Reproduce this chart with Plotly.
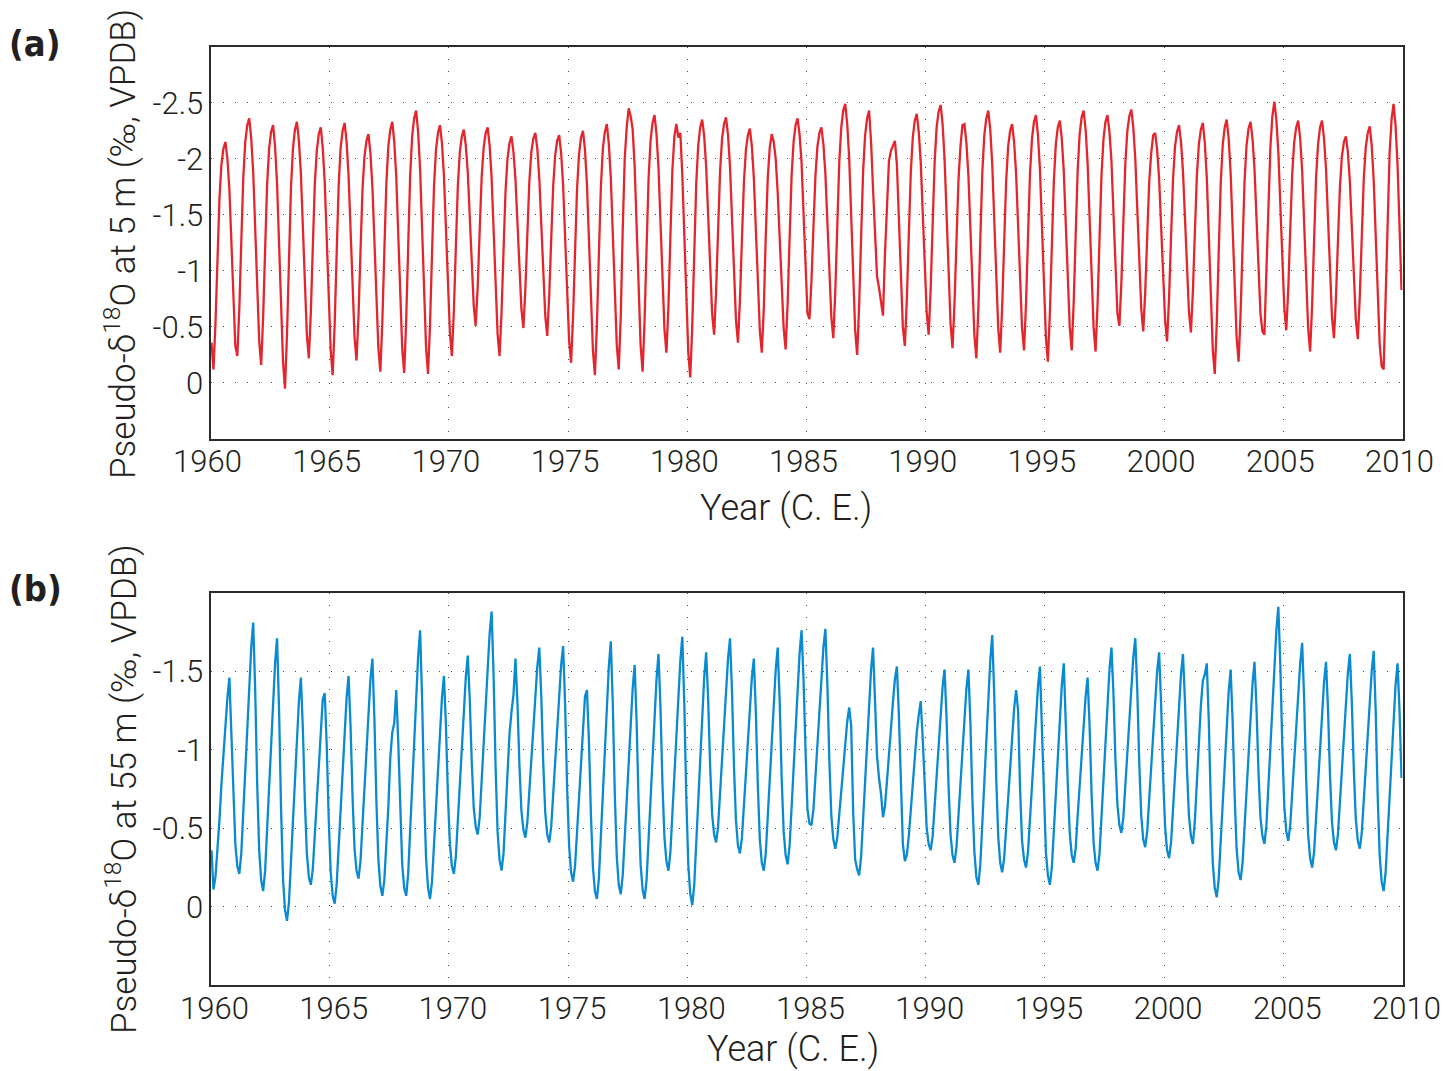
import numpy as np
import plotly.graph_objects as go

# ---------------- data (monthly values, Jan..Dec for each year) ----------------
first_year = 1960
last_year = 2009

d18o_5m = [
    -0.36, -0.12, -0.53, -1.09, -1.64, -1.95, -2.09, -2.15, -2.00, -1.73, -1.29, -0.81,  # 1960
    -0.33, -0.24, -0.66, -1.26, -1.83, -2.15, -2.30, -2.36, -2.18, -1.88, -1.37, -0.82,  # 1961
    -0.38, -0.16, -0.59, -1.19, -1.77, -2.09, -2.24, -2.30, -2.11, -1.78, -1.24, -0.66,  # 1962
    -0.19, 0.05, -0.43, -1.09, -1.74, -2.09, -2.26, -2.33, -2.16, -1.87, -1.38, -0.85,   # 1963
    -0.43, -0.22, -0.63, -1.21, -1.77, -2.07, -2.22, -2.28, -2.10, -1.79, -1.29, -0.73,  # 1964
    -0.29, -0.07, -0.52, -1.15, -1.76, -2.10, -2.25, -2.32, -2.15, -1.85, -1.37, -0.84,  # 1965
    -0.41, -0.20, -0.60, -1.17, -1.72, -2.02, -2.16, -2.22, -2.05, -1.75, -1.27, -0.74,  # 1966
    -0.31, -0.10, -0.55, -1.17, -1.77, -2.11, -2.26, -2.33, -2.15, -1.84, -1.32, -0.76,  # 1967
    -0.31, -0.09, -0.56, -1.21, -1.85, -2.20, -2.36, -2.43, -2.24, -1.91, -1.37, -0.79,  # 1968
    -0.32, -0.08, -0.52, -1.15, -1.75, -2.08, -2.23, -2.30, -2.14, -1.85, -1.37, -0.86,  # 1969
    -0.45, -0.24, -0.64, -1.21, -1.76, -2.06, -2.20, -2.26, -2.12, -1.88, -1.47, -1.04,  # 1970
    -0.69, -0.51, -0.86, -1.36, -1.84, -2.10, -2.23, -2.28, -2.12, -1.83, -1.36, -0.85,  # 1971
    -0.44, -0.24, -0.63, -1.18, -1.71, -2.00, -2.14, -2.20, -2.06, -1.82, -1.43, -1.00,  # 1972
    -0.66, -0.49, -0.84, -1.33, -1.80, -2.06, -2.18, -2.23, -2.09, -1.83, -1.42, -0.96,  # 1973
    -0.60, -0.42, -0.78, -1.28, -1.76, -2.03, -2.16, -2.21, -2.05, -1.76, -1.30, -0.79,  # 1974
    -0.38, -0.18, -0.59, -1.17, -1.73, -2.04, -2.19, -2.25, -2.08, -1.77, -1.27, -0.72,  # 1975
    -0.29, -0.07, -0.52, -1.15, -1.75, -2.09, -2.24, -2.31, -2.13, -1.83, -1.32, -0.78,  # 1976
    -0.34, -0.12, -0.59, -1.37, -2.00, -2.28, -2.45, -2.38, -2.26, -1.93, -1.39, -0.81,  # 1977
    -0.34, -0.10, -0.56, -1.20, -1.82, -2.16, -2.32, -2.39, -2.22, -1.92, -1.44, -0.91,  # 1978
    -0.48, -0.27, -0.68, -1.31, -1.90, -2.20, -2.31, -2.19, -2.23, -1.85, -1.30, -0.72,  # 1979
    -0.27, -0.05, -0.51, -1.15, -1.78, -2.12, -2.28, -2.35, -2.20, -1.93, -1.49, -1.01,  # 1980
    -0.62, -0.43, -0.82, -1.36, -1.89, -2.18, -2.31, -2.37, -2.21, -1.93, -1.47, -0.96,  # 1981
    -0.56, -0.36, -0.74, -1.28, -1.79, -2.08, -2.21, -2.27, -2.11, -1.83, -1.37, -0.87,  # 1982
    -0.47, -0.27, -0.66, -1.31, -1.83, -2.10, -2.22, -2.15, -2.00, -1.70, -1.26, -0.80,  # 1983
    -0.49, -0.30, -0.71, -1.29, -1.85, -2.15, -2.30, -2.36, -2.22, -1.97, -1.55, -1.11,  # 1984
    -0.62, -0.57, -0.91, -1.39, -1.85, -2.11, -2.23, -2.28, -2.13, -1.87, -1.43, -0.96,  # 1985
    -0.59, -0.40, -0.82, -1.40, -1.97, -2.28, -2.43, -2.49, -2.31, -2.00, -1.48, -0.92,  # 1986
    -0.47, -0.25, -0.69, -1.30, -1.89, -2.21, -2.36, -2.43, -2.15, -1.73, -1.30, -0.95,  # 1987
    -0.85, -0.74, -0.60, -1.15, -1.65, -1.98, -2.07, -2.12, -2.16, -1.95, -1.50, -0.95,  # 1988
    -0.50, -0.33, -0.74, -1.32, -1.88, -2.19, -2.34, -2.40, -2.24, -1.97, -1.51, -1.02,  # 1989
    -0.63, -0.43, -0.84, -1.41, -1.97, -2.28, -2.42, -2.48, -2.31, -2.00, -1.50, -0.96,  # 1990
    -0.53, -0.31, -0.71, -1.27, -1.81, -2.11, -2.30, -2.31, -2.14, -1.85, -1.37, -0.85,  # 1991
    -0.43, -0.22, -0.66, -1.28, -1.88, -2.21, -2.36, -2.43, -2.26, -1.95, -1.46, -0.92,  # 1992
    -0.49, -0.27, -0.68, -1.25, -1.80, -2.11, -2.25, -2.31, -2.15, -1.87, -1.40, -0.90,  # 1993
    -0.49, -0.29, -0.71, -1.30, -1.87, -2.18, -2.33, -2.39, -2.21, -1.91, -1.40, -0.85,  # 1994
    -0.41, -0.19, -0.62, -1.22, -1.80, -2.13, -2.28, -2.34, -2.18, -1.89, -1.42, -0.91,  # 1995
    -0.50, -0.29, -0.72, -1.32, -1.90, -2.22, -2.37, -2.43, -2.26, -1.96, -1.46, -0.93,  # 1996
    -0.50, -0.28, -0.70, -1.29, -1.86, -2.18, -2.33, -2.39, -2.24, -1.98, -1.54, -1.07,  # 1997
    -0.62, -0.51, -0.90, -1.44, -1.96, -2.25, -2.38, -2.44, -2.28, -2.00, -1.55, -1.05,  # 1998
    -0.66, -0.46, -0.81, -1.31, -1.79, -2.05, -2.21, -2.23, -2.08, -1.82, -1.39, -0.93,  # 1999
    -0.56, -0.37, -0.76, -1.30, -1.82, -2.11, -2.24, -2.30, -2.15, -1.89, -1.47, -1.01,  # 2000
    -0.64, -0.45, -0.82, -1.35, -1.85, -2.13, -2.26, -2.32, -2.14, -1.83, -1.31, -0.75,  # 2001
    -0.30, -0.08, -0.53, -1.17, -1.78, -2.12, -2.28, -2.35, -2.18, -1.87, -1.38, -0.84,  # 2002
    -0.41, -0.19, -0.62, -1.22, -1.80, -2.12, -2.27, -2.33, -2.18, -1.91, -1.48, -1.00,  # 2003
    -0.62, -0.46, -0.43, -1.00, -1.65, -2.10, -2.38, -2.51, -2.35, -2.06, -1.59, -1.08,  # 2004
    -0.67, -0.47, -0.84, -1.37, -1.87, -2.15, -2.28, -2.34, -2.18, -1.89, -1.41, -0.90,  # 2005
    -0.49, -0.28, -0.69, -1.27, -1.83, -2.13, -2.28, -2.34, -2.18, -1.91, -1.47, -0.98,  # 2006
    -0.59, -0.40, -0.76, -1.26, -1.75, -2.02, -2.15, -2.20, -2.06, -1.80, -1.39, -0.93,  # 2007
    -0.57, -0.39, -0.77, -1.30, -1.82, -2.10, -2.23, -2.29, -2.12, -1.81, -1.31, -0.77,  # 2008
    -0.35, -0.15, -0.12, -0.75, -1.50, -2.05, -2.35, -2.49, -2.30, -1.95, -1.40, -0.83,  # 2009
]

d18o_55m = [
    -0.36, -0.11, -0.19, -0.35, -0.55, -0.78, -0.98, -1.19, -1.33, -1.46, -1.14, -0.71,  # 1960
    -0.40, -0.26, -0.21, -0.34, -0.61, -0.90, -1.17, -1.43, -1.65, -1.81, -1.38, -0.78,  # 1961
    -0.36, -0.17, -0.10, -0.23, -0.50, -0.79, -1.07, -1.32, -1.55, -1.71, -1.26, -0.63,  # 1962
    -0.18, 0.02, 0.09, -0.03, -0.30, -0.58, -0.84, -1.09, -1.31, -1.46, -1.13, -0.67,    # 1963
    -0.34, -0.19, -0.14, -0.24, -0.45, -0.66, -0.90, -1.07, -1.32, -1.36, -1.03, -0.56,  # 1964
    -0.22, -0.07, -0.02, -0.14, -0.38, -0.64, -0.89, -1.12, -1.33, -1.47, -1.15, -0.70,  # 1965
    -0.37, -0.23, -0.18, -0.29, -0.53, -0.78, -1.02, -1.24, -1.45, -1.58, -1.20, -0.67,  # 1966
    -0.30, -0.13, -0.07, -0.17, -0.40, -0.63, -0.95, -1.11, -1.17, -1.38, -1.05, -0.59,  # 1967
    -0.27, -0.12, -0.07, -0.21, -0.49, -0.80, -1.08, -1.35, -1.59, -1.76, -1.33, -0.73,  # 1968
    -0.31, -0.12, -0.05, -0.16, -0.41, -0.66, -0.90, -1.13, -1.33, -1.47, -1.16, -0.71,  # 1969
    -0.40, -0.26, -0.21, -0.32, -0.56, -0.81, -1.04, -1.27, -1.46, -1.60, -1.32, -0.92,  # 1970
    -0.63, -0.51, -0.46, -0.57, -0.82, -1.07, -1.31, -1.54, -1.74, -1.88, -1.47, -0.89,  # 1971
    -0.48, -0.30, -0.23, -0.34, -0.57, -0.81, -1.10, -1.24, -1.35, -1.58, -1.30, -0.90,  # 1972
    -0.61, -0.49, -0.44, -0.54, -0.74, -0.96, -1.17, -1.36, -1.53, -1.65, -1.34, -0.91,  # 1973
    -0.60, -0.46, -0.41, -0.51, -0.72, -0.95, -1.16, -1.36, -1.54, -1.66, -1.29, -0.76,  # 1974
    -0.39, -0.22, -0.16, -0.26, -0.47, -0.68, -0.89, -1.09, -1.34, -1.38, -1.05, -0.58,  # 1975
    -0.25, -0.10, -0.05, -0.18, -0.46, -0.76, -1.03, -1.30, -1.53, -1.69, -1.29, -0.72,  # 1976
    -0.32, -0.14, -0.08, -0.20, -0.45, -0.71, -0.96, -1.19, -1.39, -1.54, -1.17, -0.65,  # 1977
    -0.27, -0.11, -0.05, -0.17, -0.44, -0.72, -0.99, -1.24, -1.45, -1.61, -1.27, -0.78,  # 1978
    -0.44, -0.29, -0.23, -0.35, -0.60, -0.87, -1.12, -1.36, -1.57, -1.72, -1.29, -0.69,  # 1979
    -0.27, -0.08, -0.01, -0.14, -0.41, -0.70, -0.98, -1.23, -1.46, -1.62, -1.32, -0.89,  # 1980
    -0.59, -0.46, -0.41, -0.51, -0.74, -0.97, -1.19, -1.40, -1.58, -1.71, -1.37, -0.89,  # 1981
    -0.55, -0.39, -0.34, -0.44, -0.65, -0.87, -1.08, -1.28, -1.46, -1.58, -1.24, -0.77,  # 1982
    -0.43, -0.28, -0.23, -0.34, -0.59, -0.84, -1.08, -1.31, -1.51, -1.65, -1.31, -0.82,  # 1983
    -0.48, -0.33, -0.27, -0.39, -0.64, -0.91, -1.16, -1.40, -1.61, -1.76, -1.45, -1.00,  # 1984
    -0.62, -0.53, -0.52, -0.62, -0.83, -1.06, -1.27, -1.47, -1.65, -1.77, -1.42, -0.93,  # 1985
    -0.58, -0.43, -0.37, -0.44, -0.60, -0.76, -0.91, -1.05, -1.18, -1.27, -1.15, -0.60,  # 1986
    -0.30, -0.24, -0.20, -0.32, -0.56, -0.82, -1.07, -1.30, -1.51, -1.65, -1.35, -0.96,  # 1987
    -0.82, -0.72, -0.57, -0.64, -0.80, -0.98, -1.15, -1.30, -1.45, -1.53, -1.22, -0.79,  # 1988
    -0.40, -0.29, -0.33, -0.45, -0.62, -0.80, -0.98, -1.11, -1.22, -1.31, -1.07, -0.74,  # 1989
    -0.50, -0.40, -0.36, -0.45, -0.65, -0.85, -1.05, -1.23, -1.40, -1.51, -1.20, -0.77,  # 1990
    -0.46, -0.33, -0.28, -0.38, -0.59, -0.81, -1.02, -1.21, -1.39, -1.51, -1.17, -0.69,  # 1991
    -0.35, -0.19, -0.14, -0.27, -0.54, -0.82, -1.09, -1.35, -1.57, -1.73, -1.35, -0.82,  # 1992
    -0.45, -0.28, -0.22, -0.31, -0.51, -0.72, -0.92, -1.10, -1.26, -1.38, -1.25, -0.75,  # 1993
    -0.42, -0.30, -0.25, -0.35, -0.57, -0.80, -1.02, -1.22, -1.40, -1.53, -1.18, -0.70,  # 1994
    -0.35, -0.20, -0.14, -0.25, -0.49, -0.75, -0.99, -1.21, -1.41, -1.55, -1.23, -0.79,  # 1995
    -0.47, -0.33, -0.28, -0.37, -0.58, -0.79, -0.99, -1.18, -1.34, -1.46, -1.15, -0.72,  # 1996
    -0.41, -0.28, -0.23, -0.34, -0.59, -0.84, -1.08, -1.31, -1.51, -1.65, -1.36, -0.94,  # 1997
    -0.65, -0.52, -0.47, -0.57, -0.78, -1.00, -1.21, -1.41, -1.59, -1.71, -1.38, -0.91,  # 1998
    -0.58, -0.43, -0.38, -0.48, -0.69, -0.91, -1.12, -1.32, -1.50, -1.62, -1.29, -0.83,  # 1999
    -0.51, -0.36, -0.31, -0.41, -0.64, -0.87, -1.09, -1.30, -1.48, -1.61, -1.31, -0.88,  # 2000
    -0.58, -0.45, -0.40, -0.55, -0.80, -1.05, -1.28, -1.44, -1.48, -1.55, -1.18, -0.66,  # 2001
    -0.28, -0.12, -0.06, -0.18, -0.42, -0.68, -0.93, -1.16, -1.37, -1.51, -1.18, -0.71,  # 2002
    -0.37, -0.22, -0.17, -0.28, -0.52, -0.77, -1.00, -1.23, -1.42, -1.56, -1.27, -0.86,  # 2003
    -0.57, -0.45, -0.40, -0.52, -0.78, -1.05, -1.31, -1.55, -1.76, -1.91, -1.54, -1.02,  # 2004
    -0.64, -0.48, -0.42, -0.52, -0.74, -0.96, -1.18, -1.38, -1.55, -1.68, -1.32, -0.82,  # 2005
    -0.46, -0.31, -0.25, -0.35, -0.58, -0.81, -1.04, -1.25, -1.43, -1.56, -1.26, -0.84,  # 2006
    -0.54, -0.41, -0.36, -0.46, -0.67, -0.90, -1.11, -1.31, -1.49, -1.61, -1.30, -0.87,  # 2007
    -0.56, -0.42, -0.37, -0.47, -0.69, -0.91, -1.13, -1.33, -1.50, -1.63, -1.25, -0.71,  # 2008
    -0.33, -0.16, -0.10, -0.22, -0.46, -0.72, -0.97, -1.20, -1.41, -1.55, -1.25, -0.82,  # 2009
]

x_ticks = [1960, 1965, 1970, 1975, 1980, 1985, 1990, 1995, 2000, 2005, 2010]
y_ticks_a = [0, -0.5, -1, -1.5, -2, -2.5]
y_ticks_b = [0, -0.5, -1, -1.5]
y_labels_a = ["0", "-0.5", "-1", "-1.5", "-2", "-2.5"]
y_labels_b = ["0", "-0.5", "-1", "-1.5"]

# monthly time axis (mid-month, decimal years)
n_months = (last_year - first_year + 1) * 12
t = first_year + (np.arange(n_months) + 0.5) / 12.0

# ---------------- figure ----------------
# The page body has an 8 px margin, so the figure is 8 px smaller and every
# position (given in window pixels) is shifted by that offset.
OFF = 8
W, H = 1452 - OFF, 1071 - OFF
FONT = "Roboto, 'Open Sans', Arial, sans-serif"
TXT = "#231f20"
RED = "#e3262d"
BLUE = "#0a8ad0"

def px_x(px):
    return (px - OFF) / W

def px_y(py):
    return 1 - (py - OFF) / H

fig = go.Figure()
fig.add_trace(go.Scatter(x=t, y=d18o_5m, mode="lines", line=dict(color=RED, width=2.3),
                         xaxis="x", yaxis="y", showlegend=False))
fig.add_trace(go.Scatter(x=t, y=d18o_55m, mode="lines", line=dict(color=BLUE, width=2.3),
                         xaxis="x2", yaxis="y2", showlegend=False))

xdom = [px_x(210.5), px_x(1402.5)]
grid = dict(showgrid=True, gridcolor="#4a4a4a", gridwidth=1.4, griddash="1.4px,10.6px")
frame = dict(showline=True, linecolor="#2b2b2b", linewidth=2, mirror=True, ticks="",
             zeroline=False, automargin=False)

xaxis_common = dict(range=[1960, 2010], tickvals=x_ticks, ticktext=[str(v) for v in x_ticks],
                    tickfont=dict(family=FONT, size=31, color=TXT, weight=300),
                    ticklabelstandoff=-6, **grid, **frame)
ytick_font = dict(family=FONT, size=31, color=TXT, weight=300)

fig.update_layout(
    template="none",
    width=W, height=H,
    margin=dict(l=0, r=0, t=0, b=0, pad=0),
    paper_bgcolor="white", plot_bgcolor="white",
    xaxis=dict(domain=xdom, anchor="y", ticklabelshift=-3, **xaxis_common),
    yaxis=dict(domain=[px_y(439), px_y(46.7)], anchor="x", range=[0.5, -3.0],
               tickvals=y_ticks_a, ticktext=y_labels_a, tickfont=ytick_font,
               ticklabelstandoff=-1, **grid, **frame),
    xaxis2=dict(domain=xdom, anchor="y2", ticklabelshift=4, **xaxis_common),
    yaxis2=dict(domain=[px_y(985.3), px_y(592.7)], anchor="x2", range=[0.5, -2.0],
                tickvals=y_ticks_b, ticktext=y_labels_b, tickfont=ytick_font,
                ticklabelstandoff=-1, **grid, **frame),
)

def ann(text, x, y, size, angle=0, bold=False, family=FONT, xanchor="center"):
    fig.add_annotation(text=text, x=px_x(x), y=px_y(y), xref="paper", yref="paper",
                       showarrow=False, textangle=angle, xanchor=xanchor, yanchor="middle",
                       font=dict(family=family, size=size, color=TXT,
                                 weight=700 if bold else 300))

LABEL_FONT = "'Liberation Sans Narrow', 'DejaVu Sans Condensed', 'Roboto Condensed', sans-serif"
ann("(a)", 7, 44, 36, bold=True, family=LABEL_FONT, xanchor="left")
ann("(b)", 7, 588, 36, bold=True, family=LABEL_FONT, xanchor="left")
ann("Pseudo-δ<sup>18</sup>O at 5 m (‰, VPDB)", 121, 244, 35, angle=-90)
ann("Pseudo-δ<sup>18</sup>O at 55 m (‰, VPDB)", 121, 789, 35, angle=-90)
ann("Year (C. E.)", 786, 508, 36)
ann("Year (C. E.)", 793, 1049, 36)

fig.write_html("out.html")
